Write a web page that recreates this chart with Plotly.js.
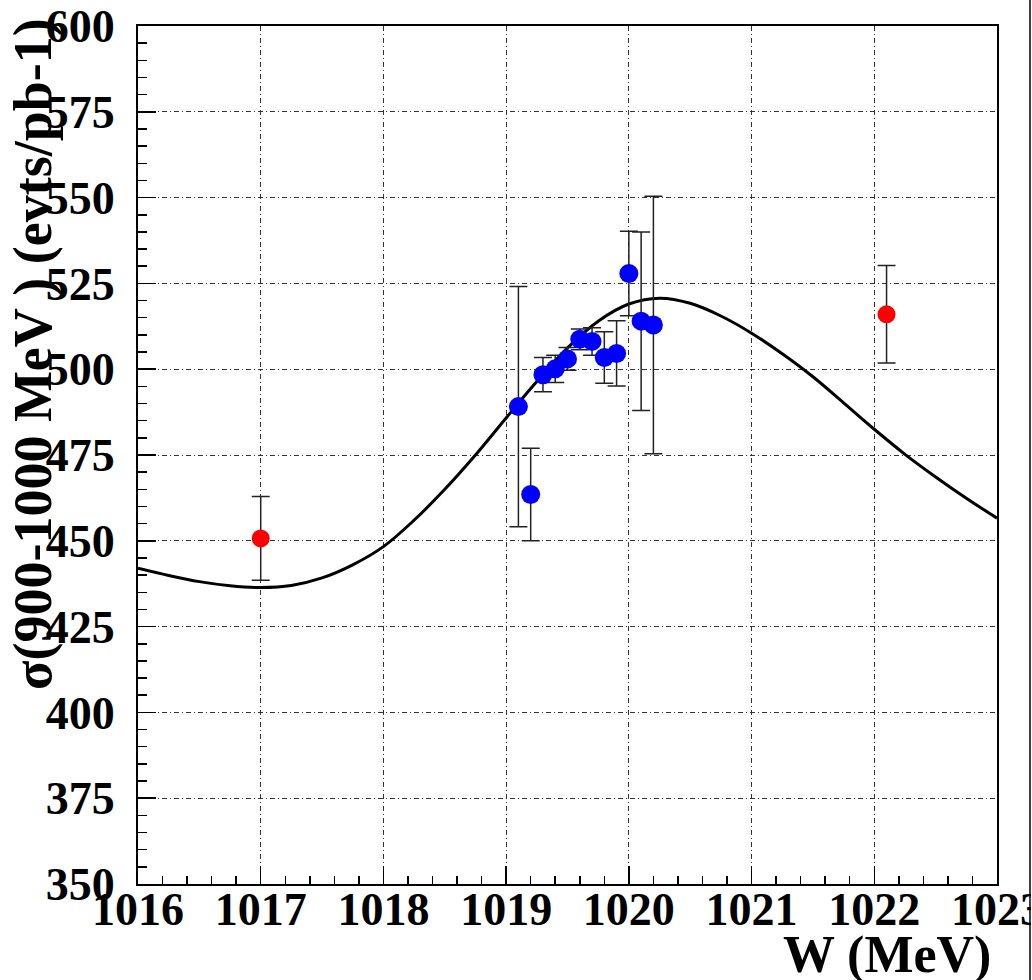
<!DOCTYPE html>
<html>
<head>
<meta charset="utf-8">
<script src="https://cdn.plot.ly/plotly-3.0.1.min.js"></script>
<style>html,body{margin:0;padding:0;background:#fff;}#chart{width:1032px;height:980px;}</style>
</head>
<body>
<div id="chart"></div>
<script>
// Fit curve
const curveW = [1016.0,1016.25,1016.5,1016.75,1017.0,1017.25,1017.5,1017.75,1018.0,1018.25,1018.5,1018.75,1019.0,1019.25,1019.5,1019.75,1020.0,1020.25,1020.5,1020.75,1021.0,1021.25,1021.5,1021.75,1022.0,1022.25,1022.5,1022.75,1023.0];
const curveSigma = [442.0,439.9,438.1,436.9,436.4,437.0,439.2,443.0,448.3,456.0,465.0,475.0,485.8,496.4,506.2,514.0,519.0,520.7,519.2,515.5,510.5,504.5,497.8,490.2,482.5,475.2,468.6,462.4,456.6];

// Blue data points
const blueW = [1019.1,1019.2,1019.3,1019.4,1019.5,1019.6,1019.7,1019.8,1019.9,1020.0,1020.1,1020.2];
const blueSigma = [489.1,463.5,498.4,500.1,503.0,508.7,508.1,503.4,504.6,527.9,514.0,512.9];
const blueErr = [35.0,13.5,5.0,4.0,3.3,3.0,4.0,7.5,9.5,12.3,26.0,37.5];

// Red data points
const redW = [1017.0,1022.1];
const redSigma = [450.7,516.0];
const redErr = [12.2,14.2];

// Axis ticks
const xTicks = [1016,1017,1018,1019,1020,1021,1022,1023];
const yTicks = [350,375,400,425,450,475,500,525,550,575,600];

const serif = 'Liberation Serif, Times New Roman, serif';

const traces = [
  {x: curveW, y: curveSigma, mode: 'lines', line: {color: '#000', width: 3, shape: 'spline', smoothing: 1}, hoverinfo: 'skip'},
  {x: blueW, y: blueSigma, mode: 'markers',
   marker: {color: '#0000ff', size: 19},
   error_y: {type: 'data', array: blueErr, visible: true, color: '#222', thickness: 1.5, width: 9}},
  {x: redW, y: redSigma, mode: 'markers',
   marker: {color: '#ff0000', size: 18},
   error_y: {type: 'data', array: redErr, visible: true, color: '#222', thickness: 1.5, width: 9}}
];

const gridStyle = {showgrid: true, gridcolor: '#333', gridwidth: 1, griddash: '5px,3px,1px,3px'};

const layout = {
  width: 1032, height: 980,
  margin: {l: 138, r: 35, t: 26, b: 96},
  paper_bgcolor: '#fff', plot_bgcolor: '#fff',
  showlegend: false,
  xaxis: Object.assign({
    range: [1016, 1023], tickvals: xTicks, ticktext: xTicks.map(String),
    ticks: 'inside', ticklen: 18, tickwidth: 1.5, tickcolor: '#000',
    minor: {dtick: 0.2, ticks: 'inside', ticklen: 8, tickwidth: 1.5, tickcolor: '#000', showgrid: false},
    showline: true, linecolor: '#000', linewidth: 2, mirror: true, zeroline: false,
    tickfont: {family: serif, size: 46, color: '#000', weight: 'bold'},
    ticklabelstandoff: -16, ticklabeloverflow: 'allow'
  }, gridStyle),
  yaxis: Object.assign({
    range: [350, 600], tickvals: yTicks, ticktext: yTicks.map(String),
    ticks: 'inside', ticklen: 18, tickwidth: 1.5, tickcolor: '#000',
    minor: {dtick: 5, ticks: 'inside', ticklen: 9, tickwidth: 1.5, tickcolor: '#000', showgrid: false},
    showline: true, linecolor: '#000', linewidth: 2, mirror: true, zeroline: false,
    tickfont: {family: serif, size: 46, color: '#000', weight: 'bold'},
    ticklabelstandoff: 12, ticklabeloverflow: 'allow'
  }, gridStyle),
  annotations: [
    {text: 'W (MeV)', xref: 'paper', yref: 'paper', x: 0.995, y: -0.083, xanchor: 'right', yanchor: 'middle',
     showarrow: false, font: {family: serif, size: 52, color: '#000', weight: 'bold'}},
    {text: 'σ(900-1000 MeV ) (evts/pb-1)', xref: 'paper', yref: 'paper', x: -0.122, y: 0.618,
     xanchor: 'center', yanchor: 'middle', textangle: -90,
     showarrow: false, font: {family: serif, size: 54, color: '#000', weight: 'bold'}}
  ],
  shapes: [
    {type: 'rect', xref: 'paper', yref: 'paper', x0: 1.0395, x1: 1.06, y0: -0.15, y1: 1.05,
     fillcolor: '#fff', line: {width: 0}, layer: 'above'},
    {type: 'line', xref: 'paper', yref: 'paper', x0: 1.0384, x1: 1.0384, y0: -0.15, y1: 1.05,
     line: {color: '#000', width: 1.5}, layer: 'above'}
  ]
};

Plotly.newPlot('chart', traces, layout, {staticPlot: true, displayModeBar: false});
</script>
</body>
</html>
